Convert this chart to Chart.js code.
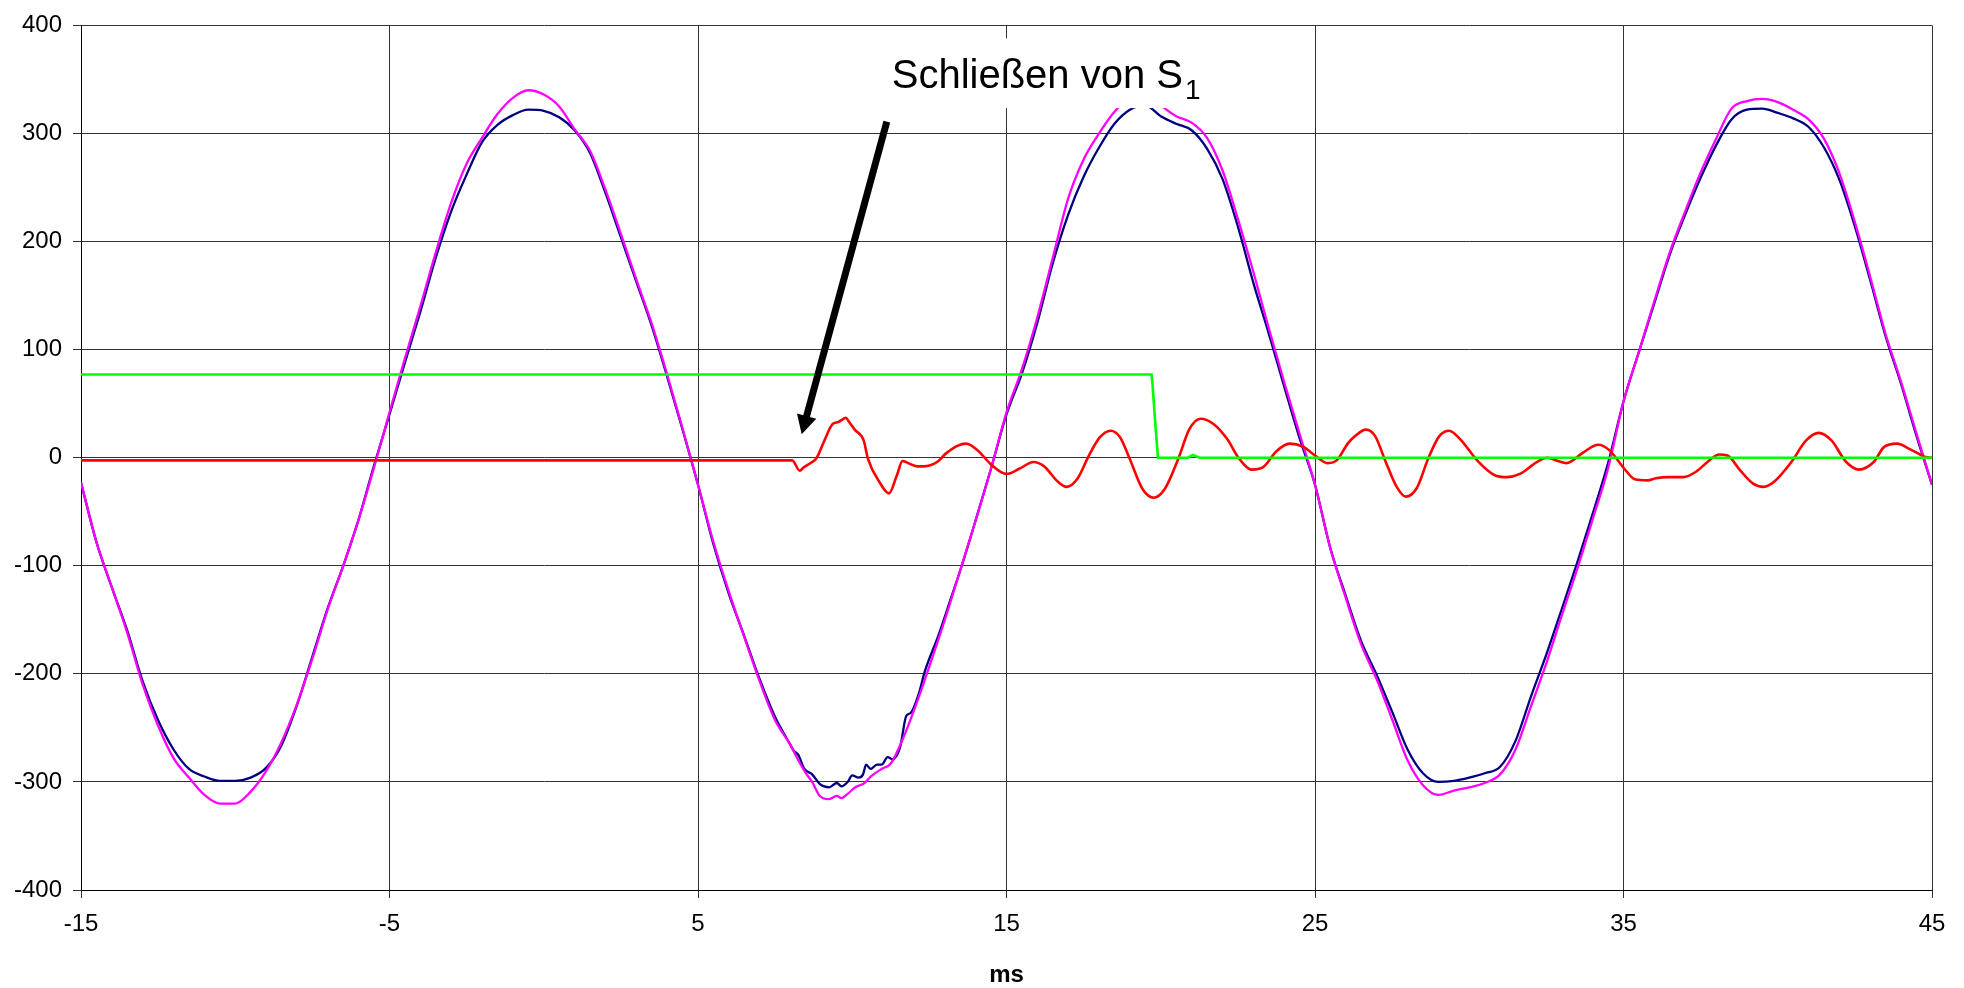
<!DOCTYPE html>
<html>
<head>
<meta charset="utf-8">
<script src="https://cdn.jsdelivr.net/npm/chart.js@4.4.1/dist/chart.umd.min.js"></script>
<style>
html,body{margin:0;padding:0;background:#fff;}
#wrap{width:1964px;height:988px;}
</style>
</head>
<body>
<div id="wrap"><canvas id="c" width="1964" height="988"></canvas></div>
<script>
// ---- data ----
const xTicks = [-15, -5, 5, 15, 25, 35, 45];
const yTicks = [-400, -300, -200, -100, 0, 100, 200, 300, 400];
const xTitle = 'ms';

const navyT = [-15,-14.5,-14,-13.5,-13,-12.5,-12,-11.5,-11,-10.5,-10,-9.5,-9,-8.5,-8,-7.5,-7,-6.5,-6,-5.5,
  -5,-4.5,-4,-3.5,-3,-2.5,-2,-1.5,-1,-0.5,0,0.5,1,1.5,2,2.5,3,3.5,4,4.5,
  5,5.5,6,6.5,7,7.5,8,8.1,8.25,8.45,8.7,8.95,9.25,9.5,9.65,9.85,10,10.2,10.35,10.45,10.6,10.8,10.95,11.15,11.3,11.55,11.75,11.9,12.15,12.35,12.8,13.2,13.55,14,14.5,
  15,15.5,16,16.5,17,17.5,18,18.5,19,19.5,20,20.5,21,21.5,22,22.5,23,23.5,24,24.5,
  25,25.5,26,26.5,27,27.5,28,28.5,29,29.5,30,30.5,31,31.5,32,32.5,33,33.5,34,34.5,
  35,35.5,36,36.5,37,37.5,38,38.5,39,39.5,40,40.5,41,41.5,42,42.5,43,43.5,44,44.5,45];
const navyV = [-23,-78,-120,-160,-207,-243,-270,-288,-295,-299,-299,-296,-287,-266,-229,-184,-139,-100,-57,-7,
  40,88,135,185,228,262,292,308,317,322,321,315,303,282,245,204,163,122,75,26,
  -25,-80,-126,-165,-205,-240,-266,-271,-275,-288,-293,-302,-305,-301,-304,-300,-294,-296,-293,-284,-288,-284,-284,-277,-279,-268,-239,-236,-219,-198,-164,-130,-100,-58,-10,
  40,78,125,180,225,260,287,309,322,326,316,309,303,286,258,214,162,115,66,18,
  -25,-84,-128,-170,-201,-235,-270,-292,-300,-299,-296,-292,-286,-262,-221,-182,-140,-97,-52,-5,
  52,98,143,188,225,259,289,313,322,323,319,314,306,287,257,214,164,112,68,20,-25];

const magT = [-15,-14.5,-14,-13.5,-13,-12.5,-12,-11.5,-11,-10.5,-10,-9.5,-9,-8.5,-8,-7.5,-7,-6.5,-6,-5.5,
  -5,-4.5,-4,-3.5,-3,-2.5,-2,-1.5,-1,-0.5,0,0.5,1,1.5,2,2.5,3,3.5,4,4.5,
  5,5.5,6,6.5,7,7.5,8,8.25,8.5,8.7,8.95,9.25,9.5,9.65,9.85,10.1,10.4,10.6,10.95,11.25,11.7,12.15,12.5,13,13.5,14,14.5,
  15,15.5,16,16.5,17,17.5,18,18.5,19,19.5,20,20.5,21,21.5,22,22.5,23,23.5,24,24.5,
  25,25.5,26,26.5,27,27.5,28,28.5,29,29.5,30,30.5,31,31.5,32,32.5,33,33.5,34,34.5,
  35,35.5,36,36.5,37,37.5,38,38.5,39,39.5,40,40.5,41,41.5,42,42.5,43,43.5,44,44.5,45];
const magV = [-23,-78,-120,-162,-210,-248,-278,-296,-312,-320,-320,-309,-290,-263,-228,-186,-140,-100,-57,-9,
  42,92,140,190,236,272,296,318,333,340,336,325,304,284,248,207,165,124,77,27,
  -25,-78,-124,-166,-207,-243,-266,-280,-292,-300,-313,-316,-313,-315,-311,-305,-301,-295,-288,-283,-256,-222,-193,-150,-104,-58,-10,
  42,82,130,185,240,276,300,320,333,338,326,316,310,296,266,221,172,120,70,22,
  -25,-84,-130,-173,-205,-242,-280,-303,-312,-308,-305,-301,-293,-270,-230,-190,-146,-103,-57,-10,
  52,98,145,190,228,264,295,323,330,332,329,322,313,295,263,218,167,114,70,22,-25];

const redT = [-15,8.05,8.3,8.42,8.7,8.85,9.07,9.36,9.55,9.72,9.79,9.9,10.08,10.37,10.51,10.87,11.19,11.45,11.63,11.81,
  12.1,12.32,12.75,13.04,13.41,13.69,14.06,14.49,15,15.43,15.87,16.22,16.66,16.95,17.31,17.67,18.03,18.37,18.68,18.98,
  19.41,19.77,20.13,20.57,20.92,21.29,21.72,22.16,22.52,22.95,23.31,23.75,24.18,24.62,25.05,25.41,25.72,26.06,26.3,26.65,
  26.95,27.28,27.63,27.94,28.3,28.68,29.03,29.35,29.71,30.27,30.81,31.22,31.64,32.19,32.53,32.87,33.15,33.7,34.18,34.54,
  35.02,35.37,35.78,36.05,36.46,36.94,37.35,37.76,38.1,38.37,38.79,39.2,39.54,39.89,40.44,40.92,41.33,41.74,42.22,42.63,
  43.11,43.45,43.87,44.28,44.76,45];
const redV = [-2.5,-2.5,-12,-9,-4,0,14,31,33,36,37,33,26,16,-1,-22,-33,-16,-3,-5,
  -8,-8,-4,4,11,13,7,-6,-15,-10,-4,-8,-22,-27,-19,2,19,25,19,0,
  -29,-37,-29,-1,26,36,31,17,0,-11,-9,6,13,10,1,-5,-2,13,20,26,
  20,-3,-26,-36,-28,0,20,25,17,-3,-16,-18,-15,-4,0,-3,-5,5,12,7,
  -10,-20,-21,-19,-18,-18,-13,-3,3,2,-12,-24,-27,-22,-4,16,23,16,-4,-11,
  -4,10,13,8,1,0];

const greenT = [-15,19.7,19.73,19.82,19.91,20.88,21.04,21.26,45];
const greenV = [77,77,69,33,0,0,2.5,0,0];

// annotation (data units)
const noteText = 'Schließen von S';
const noteSub = '1';
const notePos = [11.28, 342.5];
const noteBox = [10.9, 21.6, 388, 323.5];
const arrowFrom = [11.12, 311];
const arrowTo = [8.36, 21.6];

const FONT = "'Liberation Sans', Arial, Helvetica, sans-serif";
const pts = (t, v) => t.map((x, i) => ({x: x, y: v[i]}));

const annotPlugin = {
  id: 'annot',
  afterDatasetsDraw(chart) {
    const {ctx} = chart;
    const x = chart.scales.x, y = chart.scales.y;
    ctx.save();
    const bx0 = x.getPixelForValue(noteBox[0]), bx1 = x.getPixelForValue(noteBox[1]);
    const by0 = y.getPixelForValue(noteBox[2]), by1 = y.getPixelForValue(noteBox[3]);
    ctx.fillStyle = '#ffffff';
    ctx.fillRect(bx0, by0, bx1 - bx0, by1 - by0);
    ctx.fillStyle = '#000';
    ctx.textBaseline = 'alphabetic';
    ctx.textAlign = 'left';
    ctx.font = '40px ' + FONT;
    const tx = x.getPixelForValue(notePos[0]), ty = y.getPixelForValue(notePos[1]);
    ctx.fillText(noteText, tx, ty);
    const w = ctx.measureText(noteText).width;
    ctx.font = '28px ' + FONT;
    ctx.fillText(noteSub, tx + w + 2, ty + 11);
    const ax0 = x.getPixelForValue(arrowFrom[0]), ay0 = y.getPixelForValue(arrowFrom[1]);
    const ax1 = x.getPixelForValue(arrowTo[0]), ay1 = y.getPixelForValue(arrowTo[1]);
    const dx = ax1 - ax0, dy = ay1 - ay0, L = Math.hypot(dx, dy);
    const ux = dx / L, uy = dy / L, px = -uy, py = ux;
    const hl = 19, hw = 10;
    const bxp = ax1 - ux * hl, byp = ay1 - uy * hl;
    ctx.strokeStyle = '#000';
    ctx.lineWidth = 7;
    ctx.lineCap = 'butt';
    ctx.beginPath();
    ctx.moveTo(ax0, ay0);
    ctx.lineTo(bxp + ux * 2, byp + uy * 2);
    ctx.stroke();
    ctx.beginPath();
    ctx.moveTo(ax1, ay1);
    ctx.lineTo(bxp + px * hw, byp + py * hw);
    ctx.lineTo(bxp - px * hw, byp - py * hw);
    ctx.closePath();
    ctx.fill();
    ctx.restore();
  }
};

const gridColor = '#333333';

new Chart(document.getElementById('c'), {
  type: 'line',
  data: {
    datasets: [
      {label: 'green', data: pts(greenT, greenV), borderColor: '#00ff00', borderWidth: 2.6, pointRadius: 0, tension: 0},
      {label: 'red', data: pts(redT, redV), borderColor: '#ff0000', borderWidth: 2.6, pointRadius: 0, cubicInterpolationMode: 'monotone'},
      {label: 'magenta', data: pts(magT, magV), borderColor: '#ff00ff', borderWidth: 2.3, pointRadius: 0, cubicInterpolationMode: 'monotone'},
      {label: 'navy', data: pts(navyT, navyV), borderColor: '#000080', borderWidth: 2.3, pointRadius: 0, cubicInterpolationMode: 'monotone'}
    ]
  },
  options: {
    responsive: false,
    animation: false,
    devicePixelRatio: 1,
    parsing: false,
    normalized: true,
    layout: {padding: {top: 20, right: 32, bottom: 0, left: 0}},
    plugins: {legend: {display: false}, tooltip: {enabled: false}},
    scales: {
      x: {
        type: 'linear',
        min: -15, max: 45,
        afterBuildTicks: s => { s.ticks = xTicks.map(v => ({value: v})); },
        afterFit: s => { s.height = 98; },
        grid: {color: gridColor, lineWidth: 1, tickLength: 8, drawTicks: true},
        border: {display: true, color: '#000', width: 1},
        ticks: {color: '#000', font: {family: FONT, size: 24}, padding: 12, maxRotation: 0, autoSkip: false},
        title: {display: true, text: xTitle, color: '#000', font: {family: FONT, size: 24, weight: 'bold'}, padding: {top: 0, bottom: -2}}
      },
      y: {
        type: 'linear',
        min: -400, max: 400,
        afterBuildTicks: s => { s.ticks = yTicks.map(v => ({value: v})); },
        afterFit: s => { s.width = 81; },
        grid: {color: gridColor, lineWidth: 1, tickLength: 8, drawTicks: true},
        border: {display: true, color: '#000', width: 1},
        ticks: {color: '#000', font: {family: FONT, size: 24}, padding: 11}
      }
    }
  },
  plugins: [annotPlugin]
});
</script>
</body>
</html>
